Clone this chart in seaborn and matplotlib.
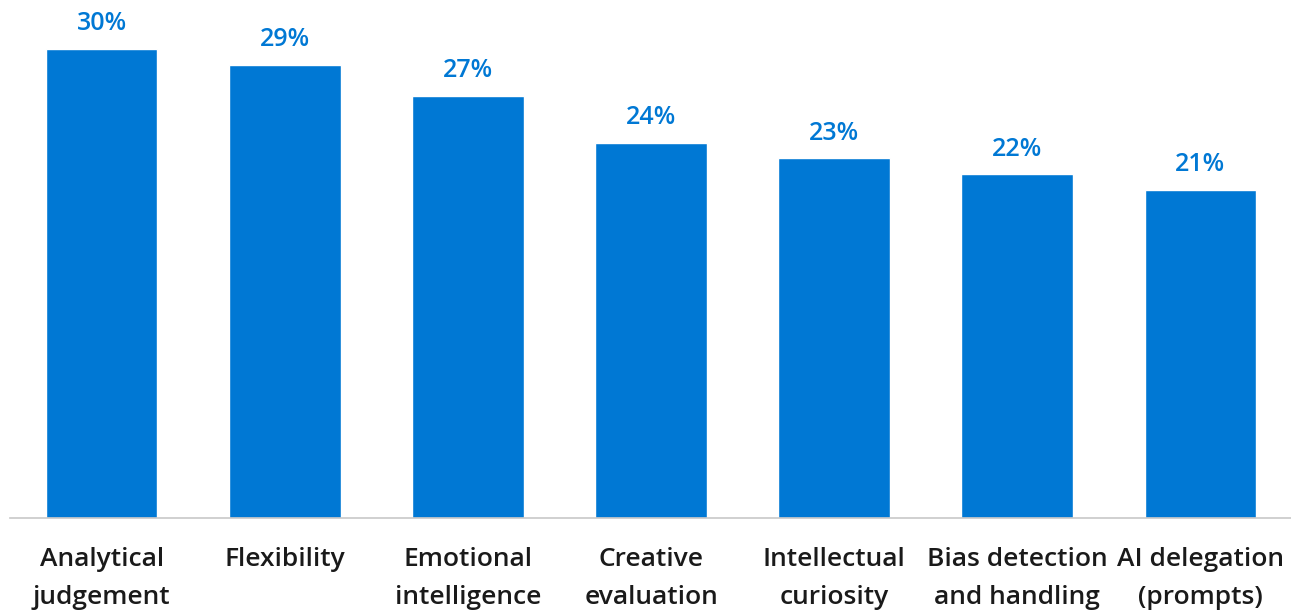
import matplotlib

matplotlib.use("Agg")
import matplotlib.pyplot as plt
import pandas as pd
import seaborn as sns

skills = [
    "Analytical\njudgement",
    "Flexibility",
    "Emotional\nintelligence",
    "Creative\nevaluation",
    "Intellectual\ncuriosity",
    "Bias detection\nand handling",
    "AI delegation\n(prompts)",
]
shares = [30, 29, 27, 24, 23, 22, 21]

BLUE = "#0078D4"

sns.set_theme(style="white")
plt.rcParams["font.family"] = ["Open Sans", "DejaVu Sans"]

df = pd.DataFrame({"skill": skills, "share": shares})

fig = plt.figure(figsize=(12.91, 6.15), dpi=100)
ax = fig.add_axes([10 / 1291, 97 / 615, 1282 / 1291, 518 / 615])

sns.barplot(data=df, x="skill", y="share", color=BLUE, saturation=1, width=0.61, ax=ax)

for c in ax.containers:
    ax.bar_label(
        c,
        labels=[f"{v}%" for v in shares],
        padding=9,
        color=BLUE,
        fontsize=18,
        fontweight="semibold",
    )

ax.set_xlim(-0.5, 6.5)
ax.set_ylim(0, 33.13)
ax.set_xlabel("")
ax.set_ylabel("")
ax.set_yticks([])
ax.tick_params(axis="x", length=0, pad=21)
for lbl in ax.get_xticklabels():
    lbl.set_fontsize(19)
    lbl.set_fontweight("semibold")
    lbl.set_color("#1a1a1a")
    lbl.set_linespacing(1.65)

for side in ["top", "right", "left"]:
    ax.spines[side].set_visible(False)
ax.spines["bottom"].set_color("#c8c8c8")
ax.spines["bottom"].set_linewidth(1.2)

fig.savefig("out.png", dpi=100)
